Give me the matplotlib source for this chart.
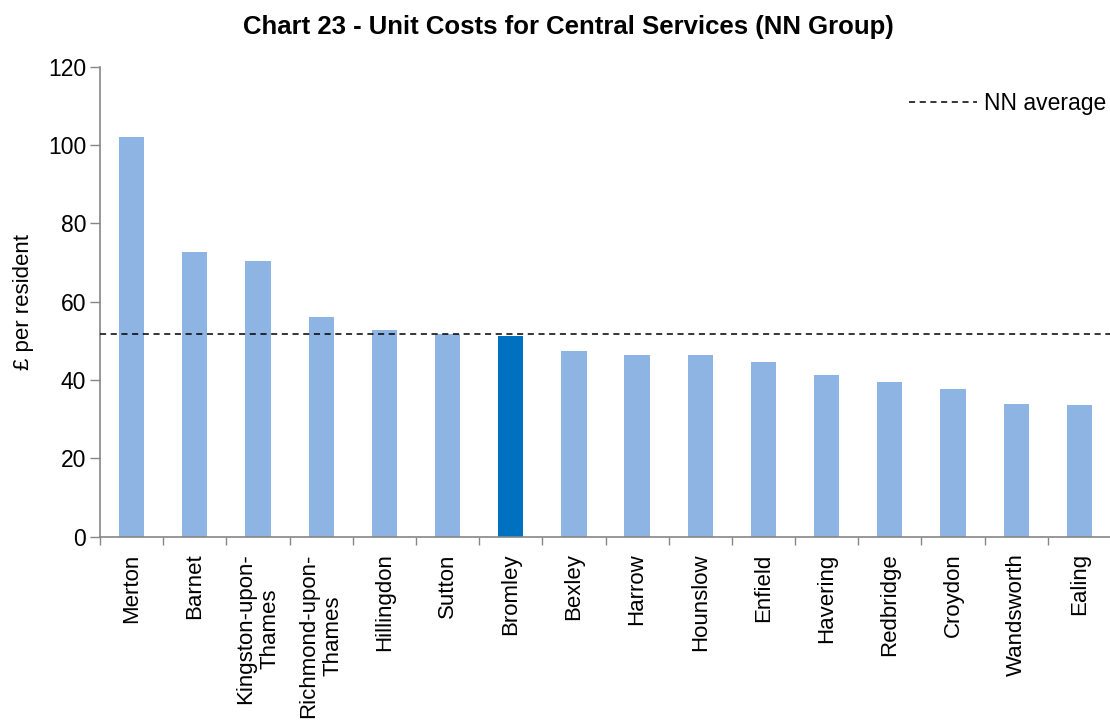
import matplotlib
matplotlib.use("Agg")
import matplotlib.pyplot as plt

categories = ["Merton", "Barnet", "Kingston-upon-\nThames", "Richmond-upon-\nThames",
              "Hillingdon", "Sutton", "Bromley", "Bexley", "Harrow", "Hounslow",
              "Enfield", "Havering", "Redbridge", "Croydon", "Wandsworth", "Ealing"]
values = [102.0, 72.7, 70.3, 56.0, 52.7, 51.7, 51.2, 47.5, 46.3, 46.3,
          44.6, 41.2, 39.5, 37.6, 34.0, 33.5]
highlight = "Bromley"
nn_average = 51.7
yticks = [0, 20, 40, 60, 80, 100, 120]

plt.rcParams['font.family'] = ['Liberation Sans', 'DejaVu Sans']

fig = plt.figure(figsize=(11.1, 7.22), dpi=100)
ax = fig.add_axes([0.0901, 0.2567, 0.9108, 0.6509])

colors = ["#0070C0" if c == highlight else "#8DB4E2" for c in categories]
x = list(range(len(categories)))
ax.bar(x, values, width=0.4, color=colors, zorder=2)
ax.axhline(nn_average, color="black", linestyle=(0, (4, 3)), linewidth=1.1,
           label="NN average", zorder=3)

ax.set_xlim(-0.5, len(categories) - 0.5)
ax.set_ylim(0, 120)
ax.set_yticks(yticks)
ax.set_yticklabels([str(v) for v in yticks], fontsize=16.5)
ax.set_xticks([i - 0.5 for i in x])
ax.set_xticklabels([])
ax.set_xticks(x, minor=True)
ax.set_xticklabels(categories, minor=True, rotation=90, fontsize=16,
                   ha="center", va="top", multialignment="center")
ax.tick_params(axis="x", which="minor", length=0, pad=12)
ax.tick_params(axis="x", which="major", length=6, color="#868686", width=1)
ax.tick_params(axis="y", length=7, color="#868686", width=1, pad=3)

for s in ["top", "right"]:
    ax.spines[s].set_visible(False)
for s in ["left", "bottom"]:
    ax.spines[s].set_color("#868686")
    ax.spines[s].set_linewidth(1.2)

ax.set_ylabel("£ per resident", fontsize=16, labelpad=10)

ax.legend(loc="upper right", bbox_to_anchor=(1.016, 0.99), frameon=False,
          fontsize=16.5, handlelength=3.0, handletextpad=0.3)

fig.text(0.512, 0.962, "Chart 23 - Unit Costs for Central Services (NN Group)",
         ha="center", va="center", fontsize=18.5, fontweight="bold")

fig.savefig("out.png", dpi=100)
